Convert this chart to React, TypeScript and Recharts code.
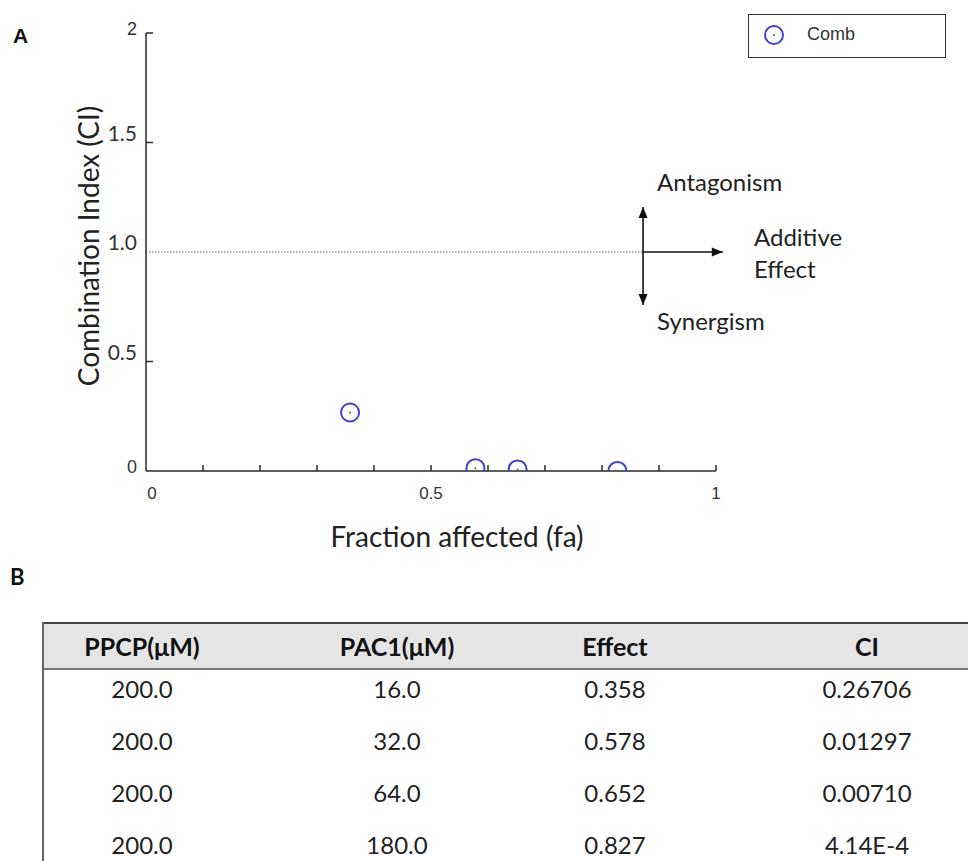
import React from 'react';
import { ScatterChart, Scatter, XAxis, YAxis, ReferenceLine } from 'recharts';

// ---- data ----
const fractionAffected = [0.358, 0.578, 0.652, 0.827];
const combinationIndex = [0.26706, 0.01297, 0.0071, 0.000414];

const xTicks = [0, 0.1, 0.2, 0.3, 0.4, 0.5, 0.6, 0.7, 0.8, 0.9, 1];
const xLabeledTicks = [0, 0.5, 1];
const xTickLabels = ['0', '0.5', '1'];
const yTicks = [0, 0.5, 1, 1.5, 2];
const yTickLabels = ['0', '0.5', '1.0', '1.5', '2'];

const tableHeaders = ['PPCP(μM)', 'PAC1(μM)', 'Effect', 'CI'];
const ppcpDoses = ['200.0', '200.0', '200.0', '200.0'];
const pac1Doses = ['16.0', '32.0', '64.0', '180.0'];
const effectValues = ['0.358', '0.578', '0.652', '0.827'];
const ciValues = ['0.26706', '0.01297', '0.00710', '4.14E-4'];

const additiveLevel = 1;
const arrowX = 0.872;
const arrowTipX = 1.012;
const arrowTop = 1.205;
const arrowBottom = 0.758;

// ---- styles ----
const CAL = 'Lato, "Open Sans", sans-serif';
const ARIAL = '"Liberation Sans", Arial, sans-serif';
const AXIS = '#2a2a2a';
const BLUE = '#4040c8';

const points = fractionAffected.map((f, i) => ({ x: f, y: combinationIndex[i] }));

const XTick = (props: any) => {
  const { x, y, payload } = props;
  const idx = xLabeledTicks.indexOf(payload.value);
  return (
    <g>
      {payload.value > 0 && (
        <line x1={x} x2={x} y1={y} y2={y - 6} stroke={AXIS} strokeWidth={1.5} />
      )}
      {idx >= 0 && (
        <text x={x + (payload.value === 0 ? 6 : 0)} y={y + 28} textAnchor="middle" fontFamily={ARIAL} fontSize={17} fill="#333">
          {xTickLabels[idx]}
        </text>
      )}
    </g>
  );
};

const YTick = (props: any) => {
  const { x, y, payload } = props;
  const idx = yTicks.indexOf(payload.value);
  const big = payload.value > 0 && payload.value < 2;
  return (
    <g>
      {payload.value > 0 && payload.value !== additiveLevel && (
        <line x1={x} x2={x + 7} y1={y} y2={y} stroke={AXIS} strokeWidth={1.5} />
      )}
      <text
        x={x - 9}
        y={big ? y - 2 : y + 2}
        textAnchor="end"
        fontFamily={big ? CAL : ARIAL}
        fontSize={big ? 21 : 18}
        fill="#333"
      >
        {yTickLabels[idx]}
      </text>
    </g>
  );
};

const Marker = (props: any) => {
  const { cx, cy } = props;
  return (
    <g>
      <circle cx={cx} cy={cy} r={9} fill="none" stroke={BLUE} strokeWidth={2} />
      <circle cx={cx} cy={cy} r={1} fill="#555" />
    </g>
  );
};

const arrowShape = (both: boolean) => (props: any) => {
  const { x1, y1, x2, y2 } = props;
  const head = (tx: number, ty: number, fx: number, fy: number) => {
    const ang = Math.atan2(ty - fy, tx - fx);
    const L = 11;
    const W = 4.5;
    const bx = tx - L * Math.cos(ang);
    const by = ty - L * Math.sin(ang);
    const px = -Math.sin(ang) * W;
    const py = Math.cos(ang) * W;
    return <polygon points={`${tx},${ty} ${bx + px},${by + py} ${bx - px},${by - py}`} fill="#111" />;
  };
  return (
    <g>
      <line x1={x1} y1={y1} x2={x2} y2={y2} stroke="#111" strokeWidth={1.6} />
      {head(x2, y2, x1, y1)}
      {both && head(x1, y1, x2, y2)}
    </g>
  );
};

const abs = (style: React.CSSProperties): React.CSSProperties => ({ position: 'absolute', whiteSpace: 'nowrap', ...style });

const colWidths = [196, 314, 122, 382];

export default function App() {
  const columns = [ppcpDoses, pac1Doses, effectValues, ciValues];
  return (
    <div style={{ position: 'absolute', left: 0, top: 0, width: 968, height: 861, overflow: 'hidden', background: '#fff' }}>
      <div style={abs({ left: 13, top: 24, fontFamily: ARIAL, fontWeight: 'bold', fontSize: 21, color: '#111' })}>A</div>

      <div style={{ position: 'absolute', left: 0, top: 0 }}>
        <ScatterChart width={968} height={560} margin={{ top: 33, right: 252, left: 86, bottom: 59 }}>
          <XAxis
            type="number"
            dataKey="x"
            domain={[0, 1]}
            ticks={xTicks}
            interval={0}
            tickLine={false}
            tickSize={0}
            tickMargin={0}
            height={30}
            axisLine={{ stroke: AXIS, strokeWidth: 1.5 }}
            tick={<XTick />}
            allowDataOverflow
          />
          <YAxis
            type="number"
            dataKey="y"
            domain={[0, 2]}
            ticks={yTicks}
            interval={0}
            tickLine={false}
            tickSize={0}
            tickMargin={0}
            width={60}
            axisLine={{ stroke: AXIS, strokeWidth: 1.5 }}
            tick={<YTick />}
            allowDataOverflow
          />
          <ReferenceLine
            segment={[{ x: 0, y: additiveLevel }, { x: arrowX, y: additiveLevel }]}
            stroke="#666"
            strokeWidth={1.2}
            strokeDasharray="1.5 1.5"
            ifOverflow="visible"
          />
          <ReferenceLine
            segment={[{ x: arrowX, y: additiveLevel }, { x: arrowTipX, y: additiveLevel }]}
            ifOverflow="visible"
            shape={arrowShape(false)}
          />
          <ReferenceLine
            segment={[{ x: arrowX, y: arrowBottom }, { x: arrowX, y: arrowTop }]}
            ifOverflow="visible"
            shape={arrowShape(true)}
          />
          <Scatter name="Comb" data={points} shape={<Marker />} isAnimationActive={false} />
        </ScatterChart>
      </div>

      {/* legend */}
      <div style={abs({ left: 748, top: 14, width: 198, height: 44, border: '1.5px solid #333', boxSizing: 'border-box' })}>
        <svg width={30} height={30} style={{ position: 'absolute', left: 10, top: 5 }}>
          <Marker cx={15} cy={15} />
        </svg>
        <div style={abs({ left: 58, top: 9, fontFamily: ARIAL, fontSize: 18, color: '#333' })}>Comb</div>
      </div>

      {/* annotations */}
      <div style={abs({ left: 657, top: 167, fontFamily: CAL, fontSize: 24, color: '#222' })}>Antagonism</div>
      <div style={abs({ left: 754, top: 221, fontFamily: CAL, fontSize: 24, color: '#222', lineHeight: '32px' })}>
        Additive
        <br />
        Effect
      </div>
      <div style={abs({ left: 657, top: 306, fontFamily: CAL, fontSize: 24, color: '#222' })}>Synergism</div>

      {/* axis titles */}
      <div
        style={abs({
          left: 88 - 180,
          top: 246 - 18,
          width: 360,
          height: 36,
          lineHeight: '36px',
          textAlign: 'center',
          transform: 'rotate(-90deg)',
          fontFamily: CAL,
          fontSize: 28,
          color: '#222',
        })}
      >
        Combination Index (CI)
      </div>
      <div style={abs({ left: 257, top: 519, width: 400, textAlign: 'center', fontFamily: CAL, fontSize: 28, color: '#222' })}>
        Fraction affected (fa)
      </div>

      {/* panel B */}
      <div style={abs({ left: 10, top: 563, fontFamily: CAL, fontWeight: 'bold', fontSize: 22, color: '#111' })}>B</div>

      <div style={abs({ left: 42, top: 622, width: 1014, height: 260, borderLeft: '2px solid #666' })}>
        <div
          style={{
            display: 'flex',
            height: 48,
            background: '#e6e5e6',
            borderTop: '2px solid #444',
            borderBottom: '2px solid #777',
            boxSizing: 'border-box',
            alignItems: 'center',
          }}
        >
          {tableHeaders.map((h, i) => (
            <div key={h} style={{ width: colWidths[i], textAlign: 'center', fontFamily: CAL, fontWeight: 'bold', fontSize: 25, color: '#111' }}>
              {h}
            </div>
          ))}
        </div>
        <div style={{ marginTop: -7 }}>
          {ppcpDoses.map((_, r) => (
            <div key={r} style={{ display: 'flex', height: 52, alignItems: 'center' }}>
              {columns.map((col, c) => (
                <div key={c} style={{ width: colWidths[c], textAlign: 'center', fontFamily: CAL, fontSize: 24, lineHeight: '22px', color: '#222' }}>
                  {col[r]}
                </div>
              ))}
            </div>
          ))}
        </div>
      </div>
    </div>
  );
}
